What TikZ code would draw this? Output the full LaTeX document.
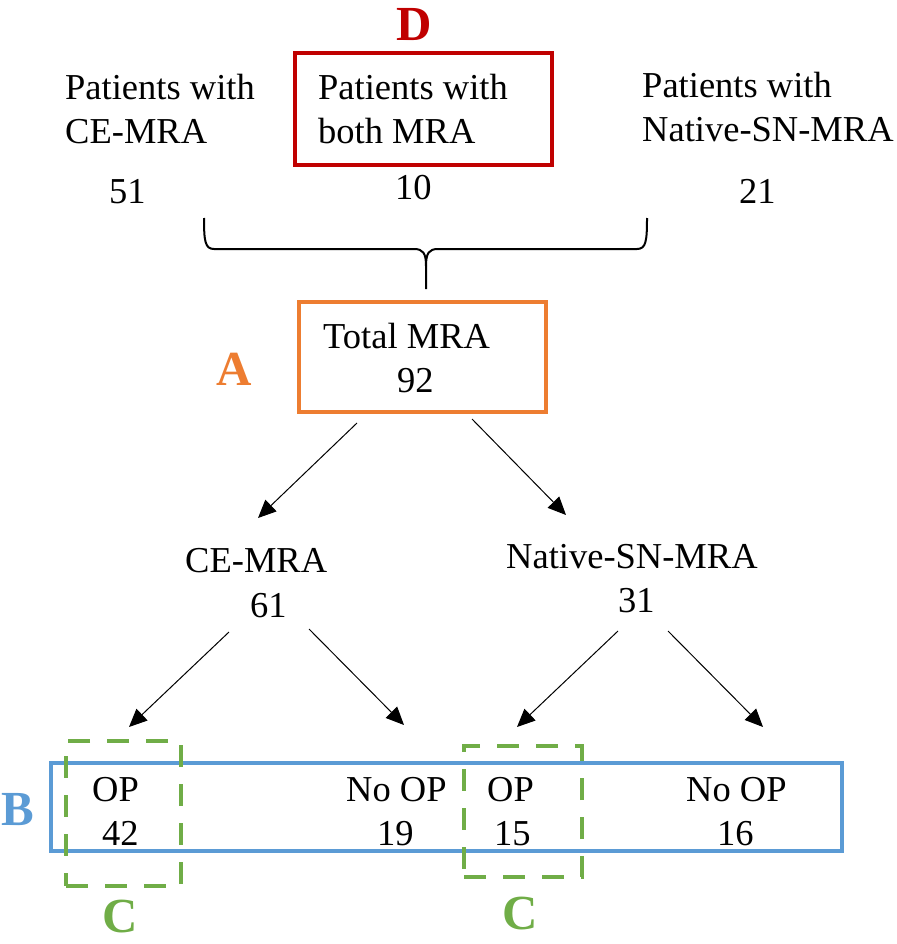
\documentclass[tikz,border=0pt]{standalone}
\usepackage{fontspec}
\setmainfont{Liberation Serif}
\usetikzlibrary{arrows.meta}
\definecolor{cred}{HTML}{C00000}
\definecolor{corange}{HTML}{ED7D31}
\definecolor{cblue}{HTML}{5B9BD5}
\definecolor{cgreen}{HTML}{70AD47}
\begin{document}
\begin{tikzpicture}[x=1pt,y=-1pt,
  txt/.style={font=\fontsize{36.5}{43}\selectfont, inner sep=0pt, anchor=base west},
  big/.style={font=\fontsize{49}{56}\selectfont\bfseries, inner sep=0pt, anchor=base},
  boxed/.style={draw, rectangle, inner sep=0pt},
  arr/.style={line width=1pt, -{Triangle[length=18pt,width=16pt]}},
  greenbox/.style={boxed, draw=cgreen, line width=4pt, dash pattern=on 22pt off 17pt}
]
\useasboundingbox (0,0) rectangle (896,944);

% top texts
\node[big, text=cred] (labD) at (414,41) {D};
\node[boxed, draw=cred, line width=3.5pt, minimum width=257pt, minimum height=112pt] (both) at (423.5,109) {};
\node[txt] (l1a) at (65,100) {Patients with};
\node[txt] (l1b) at (65,144) {CE-MRA};
\node[txt] (m1a) at (318,100) {Patients with};
\node[txt] (m1b) at (318,144) {both MRA};
\node[txt] (r1a) at (642,98) {Patients with};
\node[txt] (r1b) at (642,142) {Native-SN-MRA};
\node[txt] (n51) at (109,204) {51};
\node[txt] (n10) at (395,200) {10};
\node[txt] (n21) at (739,204) {21};

% brace
\coordinate (brL) at (204,218);
\coordinate (brR) at (647,218);
\coordinate (brC) at (426,289);
\draw[line width=2pt] (brL) .. controls (204,241) and (205,249) .. (214,249) -- (414,249)
   .. controls (423,249) and (426,253) .. (426,266) -- (brC);
\draw[line width=2pt] (brR) .. controls (647,241) and (646,249) .. (637,249) -- (438,249)
   .. controls (429,249) and (426,253) .. (426,266);

% total box
\node[boxed, draw=corange, line width=4pt, minimum width=247pt, minimum height=110pt] (tot) at (422,356.5) {};
\node[txt] (totT) at (323,348) {Total MRA};
\node[txt] (totN) at (397,392) {92};
\node[big, text=corange] (labA) at (234,385) {A};

% second level
\node[txt] (ce) at (185,572) {CE-MRA};
\node[txt] (ceN) at (250,617) {61};
\node[txt] (na) at (506,568) {Native-SN-MRA};
\node[txt] (naN) at (618,612) {31};

\coordinate (a1s) at (357,423); \coordinate (a1e) at (258,518);
\coordinate (a2s) at (472,419); \coordinate (a2e) at (566,515);
\coordinate (a3s) at (229,632); \coordinate (a3e) at (129,727);
\coordinate (a4s) at (309,629); \coordinate (a4e) at (404,725);
\coordinate (a5s) at (618,631); \coordinate (a5e) at (517,727);
\coordinate (a6s) at (668,631); \coordinate (a6e) at (763,727);
\draw[arr] (a1s) -- (a1e);
\draw[arr] (a2s) -- (a2e);
\draw[arr] (a3s) -- (a3e);
\draw[arr] (a4s) -- (a4e);
\draw[arr] (a5s) -- (a5e);
\draw[arr] (a6s) -- (a6e);

% bottom row
\node[boxed, draw=cblue, line width=3.5pt, minimum width=791pt, minimum height=88pt] (row) at (446.5,807) {};
\node[big, text=cblue] (labB) at (18,825) {B};
\node[txt] (op1) at (92,801) {OP};
\node[txt] (op1n) at (102,845) {42};
\node[txt] (no1) at (346,801) {No OP};
\node[txt] (no1n) at (377,845) {19};
\node[txt] (op2) at (487,801) {OP};
\node[txt] (op2n) at (494,845) {15};
\node[txt] (no2) at (686,801) {No OP};
\node[txt] (no2n) at (717,845) {16};

\node[greenbox, minimum width=115pt, minimum height=145pt] (g1) at (123.5,813.5) {};
\node[greenbox, minimum width=118pt, minimum height=131pt] (g2) at (523,811.5) {};
\node[big, text=cgreen] (labC1) at (120,932) {C};
\node[big, text=cgreen] (labC2) at (520,929) {C};
\end{tikzpicture}
\end{document}
